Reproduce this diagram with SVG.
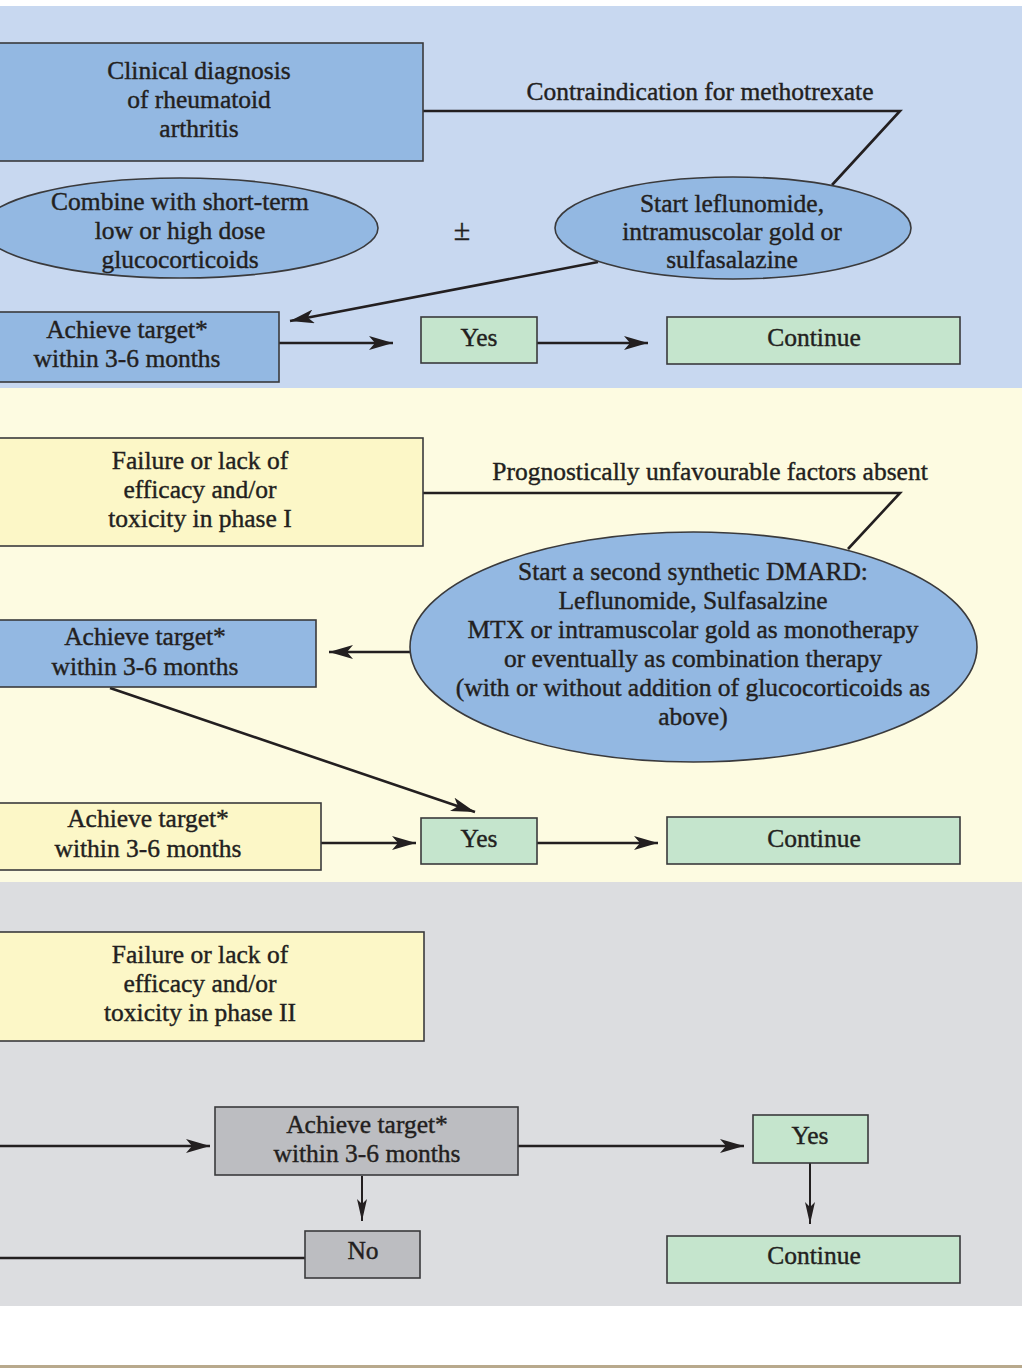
<svg xmlns="http://www.w3.org/2000/svg" width="1022" height="1371" viewBox="0 0 1022 1371">
<style>
text{font-family:"Liberation Serif","Times New Roman",serif;font-size:25.5px;fill:#231f20;stroke:#231f20;stroke-width:0.4;text-anchor:middle}
.box{stroke:#3a3a3c;stroke-width:1.6}
.blue{fill:#93b8e2}
.yel{fill:#fcf7c7}
.grn{fill:#c5e5cd}
.gry{fill:#bcbdc1}
.con{fill:none;stroke:#231f20;stroke-width:2.6}
.thin{fill:none;stroke:#231f20;stroke-width:2}
</style>
<defs>
<marker id="ah" markerUnits="userSpaceOnUse" markerWidth="26" markerHeight="14" refX="24" refY="7" orient="auto">
<path d="M0,0 L24,7 L0,14 L6,7 Z" fill="#231f20"/>
</marker>
<marker id="ahn" markerUnits="userSpaceOnUse" markerWidth="24" markerHeight="10" refX="22" refY="5" orient="auto">
<path d="M0,0 L22,5 L0,10 L5,5 Z" fill="#231f20"/>
</marker>
</defs>
<rect x="0" y="0" width="1022" height="1371" fill="#ffffff"/>
<!-- panels -->
<rect x="0" y="6" width="1022" height="382" fill="#c8d8f0"/>
<rect x="0" y="388" width="1022" height="494" fill="#fdfbe1"/>
<rect x="0" y="882" width="1022" height="424" fill="#dcdde0"/>
<rect x="0" y="1365" width="1022" height="3" fill="#b8a98c"/>

<g id="connectors">
<polyline class="con" points="423,111 900,111 832,185"/>
<line class="con" x1="598" y1="262" x2="290" y2="321" marker-end="url(#ah)"/>
<line class="con" x1="279" y1="343" x2="393" y2="343" marker-end="url(#ah)"/>
<line class="con" x1="537" y1="343" x2="648" y2="343" marker-end="url(#ah)"/>
<polyline class="con" points="423,493 900,493 848,549"/>
<line class="con" x1="410" y1="652" x2="329" y2="652" marker-end="url(#ah)"/>
<line class="con" x1="110" y1="688" x2="475" y2="812" marker-end="url(#ah)"/>
<line class="con" x1="321" y1="843" x2="416" y2="843" marker-end="url(#ah)"/>
<line class="con" x1="537" y1="843" x2="658" y2="843" marker-end="url(#ah)"/>
<line class="con" x1="0" y1="1146" x2="210" y2="1146" marker-end="url(#ah)"/>
<line class="con" x1="518" y1="1146" x2="744" y2="1146" marker-end="url(#ah)"/>
<line class="thin" x1="362" y1="1176" x2="362" y2="1221" marker-end="url(#ahn)"/>
<line class="thin" x1="810" y1="1163" x2="810" y2="1224" marker-end="url(#ahn)"/>
<line class="con" x1="0" y1="1258" x2="305" y2="1258"/>
</g>

<g id="clinical">
<rect class="box blue" x="-5" y="43" width="428" height="118"/>
<text x="199" y="79">Clinical diagnosis</text>
<text x="199" y="108">of rheumatoid</text>
<text x="199" y="137">arthritis</text>
</g>
<g id="label-contra">
<text x="700" y="100">Contraindication for methotrexate</text>
</g>
<g id="combine">
<ellipse class="box blue" cx="180" cy="228" rx="198" ry="50"/>
<text x="180" y="210">Combine with short-term</text>
<text x="180" y="239">low or high dose</text>
<text x="180" y="268">glucocorticoids</text>
</g>
<g id="plusminus">
<text x="462" y="240" style="font-size:30px">±</text>
</g>
<g id="start-lef">
<ellipse class="box blue" cx="733" cy="228" rx="178" ry="51"/>
<text x="732" y="212">Start leflunomide,</text>
<text x="732" y="240">intramuscolar gold or</text>
<text x="732" y="268">sulfasalazine</text>
</g>
<g id="achieve1">
<rect class="box blue" x="-5" y="312" width="284" height="70"/>
<text x="127" y="338">Achieve target*</text>
<text x="127" y="367">within 3-6 months</text>
</g>
<g id="yes1">
<rect class="box grn" x="421" y="317" width="116" height="46"/>
<text x="479" y="346">Yes</text>
</g>
<g id="continue1">
<rect class="box grn" x="667" y="317" width="293" height="47"/>
<text x="814" y="346">Continue</text>
</g>

<g id="failure1">
<rect class="box yel" x="-5" y="438" width="428" height="108"/>
<text x="200" y="469">Failure or lack of</text>
<text x="200" y="498">efficacy and/or</text>
<text x="200" y="527">toxicity in phase I</text>
</g>
<g id="label-prog">
<text x="710" y="480">Prognostically unfavourable factors absent</text>
</g>
<g id="second-dmard">
<ellipse class="box blue" cx="693.5" cy="647" rx="283.5" ry="115"/>
<text x="693" y="580">Start a second synthetic DMARD:</text>
<text x="693" y="609">Leflunomide, Sulfasalzine</text>
<text x="693" y="638">MTX or intramuscolar gold as monotherapy</text>
<text x="693" y="667">or eventually as combination therapy</text>
<text x="693" y="696">(with or without addition of glucocorticoids as</text>
<text x="693" y="725">above)</text>
</g>
<g id="achieve2">
<rect class="box blue" x="-5" y="620" width="321" height="67"/>
<text x="145" y="645">Achieve target*</text>
<text x="145" y="675">within 3-6 months</text>
</g>
<g id="achieve3">
<rect class="box yel" x="-5" y="803" width="326" height="67"/>
<text x="148" y="827">Achieve target*</text>
<text x="148" y="857">within 3-6 months</text>
</g>
<g id="yes2">
<rect class="box grn" x="421" y="818" width="116" height="46"/>
<text x="479" y="847">Yes</text>
</g>
<g id="continue2">
<rect class="box grn" x="667" y="817" width="293" height="47"/>
<text x="814" y="847">Continue</text>
</g>

<g id="failure2">
<rect class="box yel" x="-5" y="932" width="429" height="109"/>
<text x="200" y="963">Failure or lack of</text>
<text x="200" y="992">efficacy and/or</text>
<text x="200" y="1021">toxicity in phase II</text>
</g>
<g id="achieve4">
<rect class="box gry" x="215" y="1107" width="303" height="68"/>
<text x="367" y="1133">Achieve target*</text>
<text x="367" y="1162">within 3-6 months</text>
</g>
<g id="yes3">
<rect class="box grn" x="753" y="1115" width="115" height="48"/>
<text x="810" y="1144">Yes</text>
</g>
<g id="no">
<rect class="box gry" x="305" y="1231" width="115" height="47"/>
<text x="363" y="1259">No</text>
</g>
<g id="continue3">
<rect class="box grn" x="667" y="1236" width="293" height="47"/>
<text x="814" y="1264">Continue</text>
</g>
</svg>
